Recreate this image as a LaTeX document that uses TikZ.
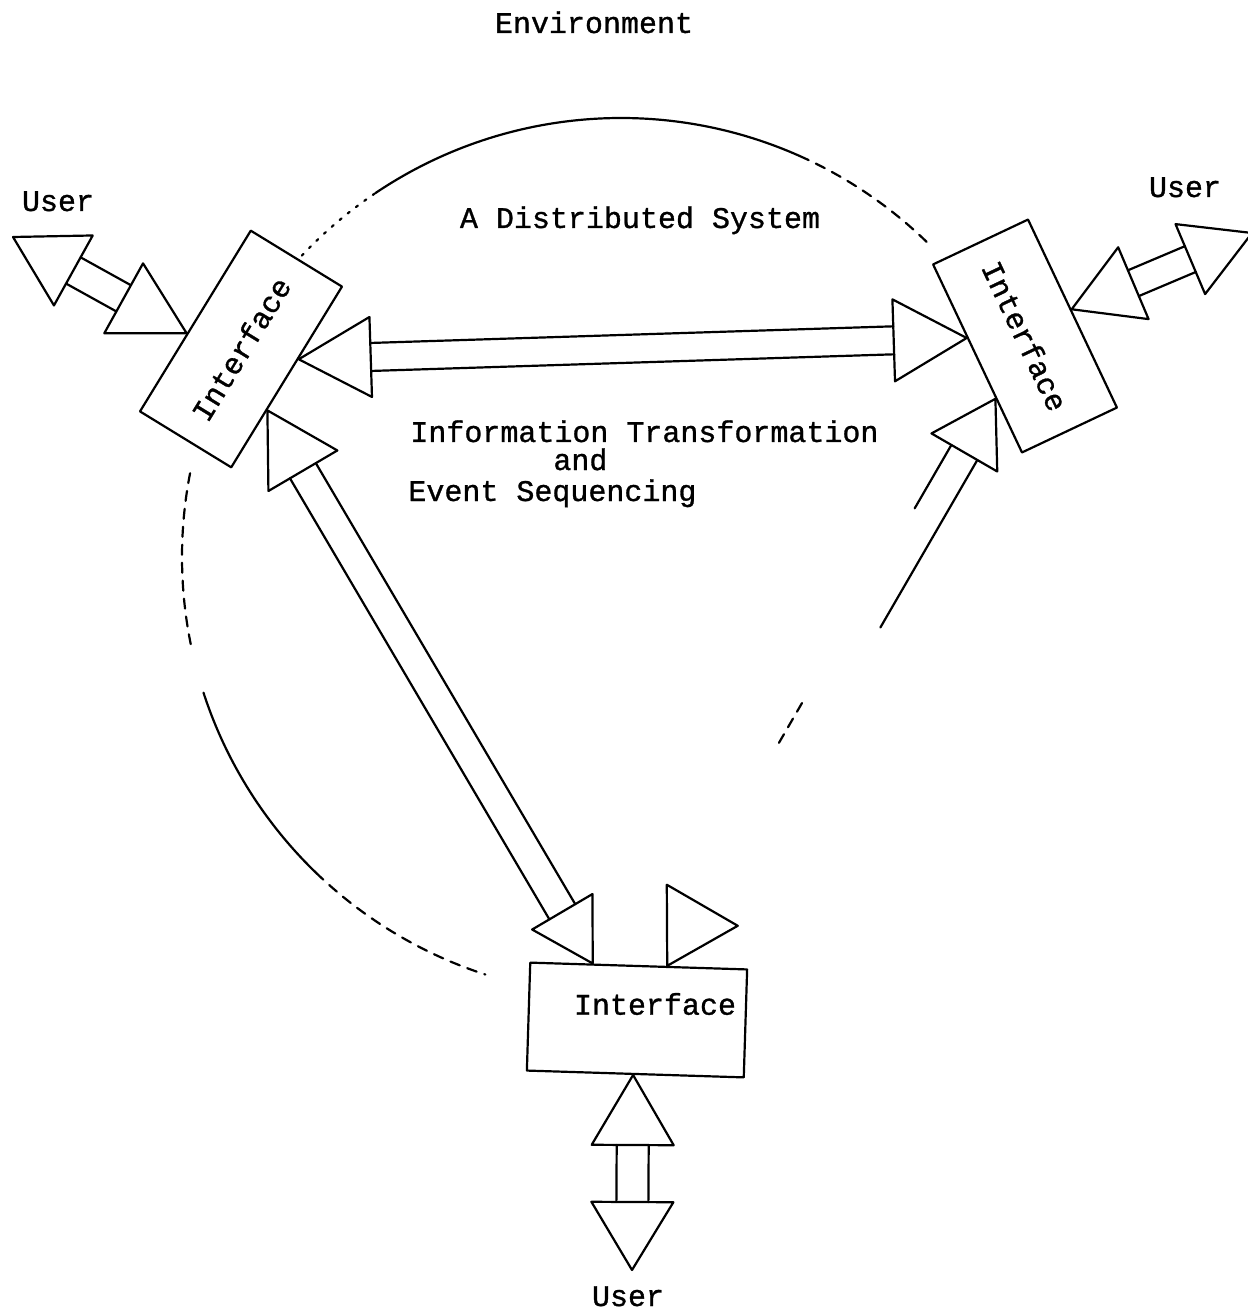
\documentclass[tikz,border=0pt]{standalone}
\usepackage{fontspec}
\usetikzlibrary{calc}
\newfontfamily\typefont[FakeBold=1]{Liberation Mono}

% Two open triangular heads joined by a two-line shaft.
% #1 prefix, #2/#3 apex points, #4/#5 length and half width of head at #2,
% #6/#7 the same at #3, #8 half width of the shaft.
\newcommand\blockheads[8]{%
  \coordinate (#1-ca) at ($(#2)!#4!(#3)$);
  \coordinate (#1-cb) at ($(#3)!#6!(#2)$);
  \draw[ln] (#2) -- ($(#1-ca)!#5!90:(#3)$) -- ($(#1-ca)!#5!-90:(#3)$) -- cycle;
  \draw[ln] (#3) -- ($(#1-cb)!#7!90:(#2)$) -- ($(#1-cb)!#7!-90:(#2)$) -- cycle;
  \coordinate (#1-a1) at ($(#1-ca)!#8!90:(#3)$);
  \coordinate (#1-a2) at ($(#1-ca)!#8!-90:(#3)$);
  \coordinate (#1-b1) at ($(#1-cb)!#8!-90:(#2)$);
  \coordinate (#1-b2) at ($(#1-cb)!#8!90:(#2)$);
}
\newcommand\shafts[1]{\draw[ln] (#1-a1) -- (#1-b1) (#1-a2) -- (#1-b2);}

\begin{document}
\begin{tikzpicture}[x=0.5pt,y=-0.5pt,
  ln/.style={line width=1.1pt, line join=round, line cap=round},
  ifbox/.style={draw, ln, inner sep=0pt, font=\typefont\fontsize{15}{15}\selectfont},
  lbl/.style={inner sep=0pt, anchor=base, font=\typefont\fontsize{15}{15}\selectfont},
  brk/.style={dash pattern=on 5pt off 4pt},
  dotty/.style={dash pattern=on 1.2pt off 4pt}]
\useasboundingbox (0,0) rectangle (1247,1315);

% labels
\node[lbl] (env) at (594,33) {Environment};
\node[lbl] (sys) at (640,228) {A Distributed System};
\node[lbl, anchor=base west] (it1) at (410,442) {Information Transformation};
\node[lbl, anchor=base west] (it2) at (553,470) {and};
\node[lbl, anchor=base west] (it3) at (408,501) {Event Sequencing};
\node[lbl] (userL) at (58,211) {User};
\node[lbl] (userR) at (1185,197) {User};
\node[lbl] (userB) at (628,1306) {User};

% system boundary
\coordinate (ctr) at (621,557);
\draw[ln, dotty] ($(ctr)+(222:439)$) arc[start angle=222, end angle=236, radius=439];
\draw[ln] ($(ctr)+(236:439)$) arc[start angle=236, end angle=294, radius=439];
\draw[ln, brk] ($(ctr)+(294:439)$) arc[start angle=294, end angle=315, radius=439];
\draw[ln, brk] ($(ctr)+(191:439)$) arc[start angle=191, end angle=168, radius=439];
\draw[ln] ($(ctr)+(162:439)$) arc[start angle=162, end angle=134, radius=439];
\draw[ln, brk] ($(ctr)+(134:439)$) arc[start angle=134, end angle=108, radius=439];

% interfaces
\node[ifbox, fill=white, rotate=58.5, minimum width=106pt, minimum height=53.5pt]
  (ifL) at (241,349) {Interface};
\node[ifbox, fill=white, rotate=-64.7, minimum width=104pt, minimum height=52.5pt]
  (ifR) at (1025,336) {Interface};
\node[ifbox, fill=white, rotate=-1.8, minimum width=108.5pt, minimum height=54pt]
  (ifB) at (637,1020) {};
\node[lbl, anchor=center] (ifBtxt) at (655,1004) {Interface};

% contact points on the interfaces
\coordinate (aL1) at ($(ifL.north west)!0.43!(ifL.north east)$);
\coordinate (aL2) at ($(ifL.south west)!0.60!(ifL.south east)$);
\coordinate (aL3) at ($(ifL.south west)!0.32!(ifL.south east)$);
\coordinate (aR1) at ($(ifR.south west)!0.39!(ifR.south east)$);
\coordinate (aR2) at ($(ifR.south west)!0.71!(ifR.south east)$);
\coordinate (aR3) at ($(ifR.north west)!0.48!(ifR.north east)$);
\coordinate (aB1) at ($(ifB.north west)!0.29!(ifB.north east)$);
\coordinate (aB2) at ($(ifB.north west)!0.63!(ifB.north east)$);
\coordinate (aB3) at ($(ifB.south west)!0.49!(ifB.south east)$);
\coordinate (uL) at (13,237);
\coordinate (uR) at (1252,233);
\coordinate (uB) at (632,1270);

% user links
\blockheads{kL}{uL}{aL1}{34.5pt}{20pt}{36pt}{20pt}{7.5pt}
\shafts{kL}
\blockheads{kR}{aR3}{uR}{33.5pt}{19.5pt}{33.5pt}{19pt}{7pt}
\shafts{kR}
\blockheads{kB}{aB3}{uB}{35pt}{20.5pt}{34pt}{20.5pt}{8pt}
\shafts{kB}

% links between interfaces
\blockheads{kLR}{aL2}{aR1}{36pt}{20pt}{36.5pt}{20.5pt}{7pt}
\shafts{kLR}
\blockheads{kLB}{aL3}{aB1}{35pt}{20pt}{30pt}{17.5pt}{7.5pt}
\shafts{kLB}
\blockheads{kRB}{aR2}{aB2}{31pt}{19pt}{35pt}{20.5pt}{7.5pt}
\draw[ln] (kRB-a1) -- ($(kRB-a1)!0.37!(kRB-b1)$);
\draw[ln] (kRB-a2) -- ($(kRB-a2)!0.14!(kRB-b2)$);
\draw[ln, brk] ($(kRB-a2)!0.57!(kRB-b2)$) -- ($(kRB-a2)!0.67!(kRB-b2)$);
\end{tikzpicture}
\end{document}
